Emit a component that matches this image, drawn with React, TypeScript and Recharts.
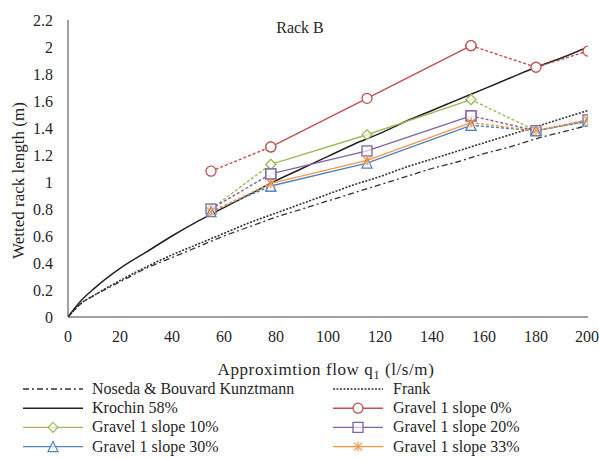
import React from "react";
import { LineChart, Line, XAxis, YAxis, Legend, Customized } from "recharts";

// Curves (approximation flow q1 in l/s/m)
const qCurve = [0, 5, 10, 20, 30, 40, 50, 60, 70, 80, 90, 100, 110, 120, 130, 140, 150, 160, 170, 180, 190, 200];
const krochin = [0, 0.12, 0.21, 0.36, 0.48, 0.6, 0.71, 0.81, 0.91, 1.01, 1.1, 1.19, 1.28, 1.36, 1.45, 1.53, 1.61, 1.69, 1.77, 1.85, 1.92, 2.0];
const frank = [0, 0.1, 0.16, 0.27, 0.37, 0.46, 0.54, 0.62, 0.7, 0.77, 0.84, 0.91, 0.98, 1.04, 1.11, 1.17, 1.23, 1.29, 1.35, 1.41, 1.47, 1.53];
const noseda = [0, 0.1, 0.16, 0.26, 0.36, 0.44, 0.52, 0.6, 0.67, 0.74, 0.8, 0.86, 0.92, 0.98, 1.04, 1.1, 1.15, 1.21, 1.26, 1.32, 1.37, 1.42];

// Measured gravel series
const qGravel = [55, 78, 115, 155, 180, 200];
const slope0 = [1.08, 1.26, 1.62, 2.01, 1.85, 1.97];
const slope10 = [0.8, 1.13, 1.35, 1.61, 1.38, 1.45];
const slope20 = [0.8, 1.06, 1.23, 1.49, 1.38, 1.46];
const slope30 = [0.78, 0.97, 1.14, 1.42, 1.38, 1.45];
const slope33 = [0.78, 0.99, 1.16, 1.44, 1.38, 1.46];

const xTicks = [0, 20, 40, 60, 80, 100, 120, 140, 160, 180, 200];
const yTicks = [0, 0.2, 0.4, 0.6, 0.8, 1, 1.2, 1.4, 1.6, 1.8, 2, 2.2];

const FONT = "Liberation Serif, DejaVu Serif, serif";
const TEXT = "#262626";

const curveData = (ys: number[]) => qCurve.map((x, i) => ({ x, y: ys[i] }));
const solidPart = (ys: number[]) => qGravel.map((x, i) => ({ x, y: ys[i] })).slice(1, 4);
const dashedPart = (ys: number[]) => qGravel.map((x, i) => ({ x, y: i === 2 ? null : ys[i] }));

type Shape = "circle" | "diamond" | "square" | "triangle" | "star";

const Marker = ({ cx, cy, shape, color }: { cx: number; cy: number; shape: Shape; color: string }) => {
  const s = 5;
  if (shape === "circle") return <circle cx={cx} cy={cy} r={s} fill="#fff" stroke={color} strokeWidth={1.3} />;
  if (shape === "square")
    return <rect x={cx - s} y={cy - s} width={2 * s} height={2 * s} fill="#fff" fillOpacity={0.6} stroke={color} strokeWidth={1.3} />;
  if (shape === "diamond")
    return <path d={`M${cx},${cy - s} L${cx + s},${cy} L${cx},${cy + s} L${cx - s},${cy} Z`} fill="#fff" fillOpacity={0.6} stroke={color} strokeWidth={1.2} />;
  if (shape === "triangle")
    return <path d={`M${cx},${cy - s} L${cx + s},${cy + s} L${cx - s},${cy + s} Z`} fill="#fff" fillOpacity={0.6} stroke={color} strokeWidth={1.2} />;
  return (
    <g stroke={color} strokeWidth={1.2}>
      <line x1={cx - 4} y1={cy - 4} x2={cx + 4} y2={cy + 4} />
      <line x1={cx - 4} y1={cy + 4} x2={cx + 4} y2={cy - 4} />
      <line x1={cx} y1={cy - 5} x2={cx} y2={cy + 5} />
    </g>
  );
};

const dotFn = (shape: Shape, color: string) => (props: any) => {
  const { cx, cy, index, payload } = props;
  if (cx == null || cy == null || payload == null || payload.y == null) return <g key={`e${index}`} />;
  return <Marker key={`m${index}`} cx={cx} cy={cy} shape={shape} color={color} />;
};

const gravel = [
  { name: "Gravel 1 slope 0%", ys: slope0, color: "#C0504D", shape: "circle" as Shape },
  { name: "Gravel 1 slope 10%", ys: slope10, color: "#9BBB59", shape: "diamond" as Shape },
  { name: "Gravel 1 slope 20%", ys: slope20, color: "#8064A2", shape: "square" as Shape },
  { name: "Gravel 1 slope 30%", ys: slope30, color: "#4F81BD", shape: "triangle" as Shape },
  { name: "Gravel 1 slope 33%", ys: slope33, color: "#F79646", shape: "star" as Shape },
];

const legendItems = [
  { name: "Noseda & Bouvard Kunztmann", color: "#333", dash: "6 3 2 3", shape: null },
  { name: "Frank", color: "#333", dash: "2 1.5", shape: null },
  { name: "Krochin 58%", color: "#222", dash: undefined, shape: null },
  ...gravel.map((g) => ({ name: g.name, color: g.color, dash: undefined, shape: g.shape })),
];

const txtStyle = { fontFamily: FONT, fontSize: 16, fill: TEXT };

const LegendBox = () => (
  <svg width={599} height={78} style={{ display: "block" }}>
    {legendItems.map((it, i) => {
      const col = i % 2;
      const row = Math.floor(i / 2);
      const x0 = col === 0 ? 23 : 333;
      const len = col === 0 ? 60 : 50;
      const tx = col === 0 ? 92 : 393;
      const y = 10 + row * 19.2;
      return (
        <g key={it.name}>
          <line x1={x0} y1={y} x2={x0 + len} y2={y} stroke={it.color} strokeWidth={1.4} strokeDasharray={it.dash} />
          {it.shape && <Marker cx={x0 + len / 2} cy={y} shape={it.shape as Shape} color={it.color} />}
          <text x={tx} y={y + 5} style={txtStyle}>
            {it.name}
          </text>
        </g>
      );
    })}
  </svg>
);

const Title = () => (
  <text x={300} y={33} textAnchor="middle" style={txtStyle}>
    Rack B
  </text>
);

const XTitle = (props: any) => {
  const vb = props.viewBox || { x: 68, y: 317, width: 520, height: 62 };
  const cx = vb.x + vb.width / 2 - 2;
  return (
    <text x={cx} y={vb.y + 58} textAnchor="middle" style={{ ...txtStyle, fontSize: 17, letterSpacing: 0.6 }}>
      Approximtion flow q
      <tspan fontSize={12} dy={4}>1</tspan>
      <tspan dy={-4}> (l/s/m)</tspan>
    </text>
  );
};

const YTitle = (props: any) => {
  const vb = props.viewBox || { x: 0, y: 20, width: 68, height: 297 };
  const cy = vb.y + vb.height / 2 + 12;
  return (
    <text x={24} y={cy} transform={`rotate(-90, 24, ${cy})`} textAnchor="middle" style={{ ...txtStyle, fontSize: 17 }}>
      Wetted rack length (m)
    </text>
  );
};

export default function App() {
  return (
    <div style={{ position: "absolute", left: 0, top: 0, width: 599, height: 460, background: "#fff", fontFamily: FONT }}>
      <LineChart width={599} height={460} margin={{ top: 20, right: 11, bottom: 3, left: 0 }} style={{ fontFamily: FONT }}>
        <XAxis
          type="number"
          dataKey="x"
          domain={[0, 200]}
          ticks={xTicks}
          tickLine={false}
          tickSize={0}
          tickMargin={14}
          height={62}
          stroke="#404040"
          tick={txtStyle}
          allowDataOverflow
          label={<XTitle />}
        />
        <YAxis
          type="number"
          dataKey="y"
          domain={[0, 2.2]}
          ticks={yTicks}
          tickLine={false}
          tickSize={0}
          tickMargin={15}
          width={68}
          stroke="#404040"
          tick={txtStyle}
          allowDataOverflow
          label={<YTitle />}
        />
        <Line data={curveData(noseda)} dataKey="y" name="Noseda" stroke="#333" strokeWidth={1.3} strokeDasharray="6 3 2 3" dot={false} type="monotone" isAnimationActive={false} />
        <Line data={curveData(frank)} dataKey="y" name="Frank" stroke="#333" strokeWidth={1.6} strokeDasharray="2 1.5" dot={false} type="monotone" isAnimationActive={false} />
        <Line data={curveData(krochin)} dataKey="y" name="Krochin 58%" stroke="#222" strokeWidth={1.5} dot={false} type="monotone" isAnimationActive={false} />
        {gravel.map((g) => (
          <Line
            key={g.name + "-d"}
            data={dashedPart(g.ys)}
            dataKey="y"
            name={g.name + " ext"}
            stroke={g.color}
            strokeWidth={1.4}
            strokeDasharray="3 2"
            connectNulls={false}
            dot={dotFn(g.shape, g.color)}
            isAnimationActive={false}
            legendType="none"
          />
        ))}
        {gravel.map((g) => (
          <Line
            key={g.name + "-s"}
            data={solidPart(g.ys)}
            dataKey="y"
            name={g.name}
            stroke={g.color}
            strokeWidth={1.4}
            dot={dotFn(g.shape, g.color)}
            isAnimationActive={false}
          />
        ))}
        <Customized component={Title} />
        <Legend verticalAlign="bottom" content={() => <LegendBox />} wrapperStyle={{ left: 0, width: 599 }} />
      </LineChart>
    </div>
  );
}
